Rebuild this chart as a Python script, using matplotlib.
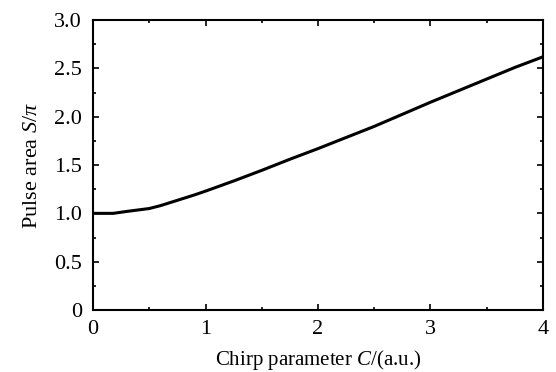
import numpy as np
import matplotlib.pyplot as plt
from matplotlib.ticker import MultipleLocator

plt.rcParams['font.family'] = ['Liberation Serif', 'DejaVu Serif']
plt.rcParams['mathtext.fontset'] = 'custom'
plt.rcParams['mathtext.rm'] = 'Liberation Serif'
plt.rcParams['mathtext.it'] = 'Liberation Serif:italic'

chirp = [0, 0.18, 0.3, 0.4, 0.5, 0.6, 0.75, 0.9, 1.0, 1.25, 1.5, 1.75, 2.0, 2.25, 2.5, 2.75, 3.0, 3.25, 3.5, 3.75, 4.0]
area = [1.0, 1.0, 1.02, 1.035, 1.05, 1.08, 1.135, 1.19, 1.23, 1.335, 1.445, 1.56, 1.67, 1.785, 1.90, 2.025, 2.15, 2.27, 2.39, 2.51, 2.62]
xticks = [0, 1, 2, 3, 4]
yticks = [0, 0.5, 1.0, 1.5, 2.0, 2.5, 3.0]
ylabels = ['0', '0.5', '1.0', '1.5', '2.0', '2.5', '3.0']

fig = plt.figure(figsize=(5.56, 3.72), dpi=100)
ax = fig.add_axes([0.1673, 0.1667, 0.8093, 0.7793])
ax.plot(chirp, area, color='black', lw=2.2)

ax.set_xlim(0, 4)
ax.set_ylim(0, 3)
ax.set_xticks(xticks)
ax.set_yticks(yticks)
ax.set_yticklabels(ylabels)
ax.xaxis.set_minor_locator(MultipleLocator(0.5))
ax.yaxis.set_minor_locator(MultipleLocator(0.25))
ax.tick_params(which='both', direction='in', top=True, right=True, labelsize=16, width=1.2)
ax.tick_params(which='major', length=4)
ax.tick_params(which='minor', length=2.5)
ax.tick_params(axis='x', pad=7)
ax.tick_params(axis='y', pad=8)
for s in ax.spines.values():
    s.set_linewidth(1.5)

ax.set_xlabel('Chirp parameter $C$/(a.u.)', fontsize=15, labelpad=7)
ax.set_ylabel(r'Pulse area $S/\pi$', fontsize=16, labelpad=9)

fig.savefig('out.png', dpi=100)
